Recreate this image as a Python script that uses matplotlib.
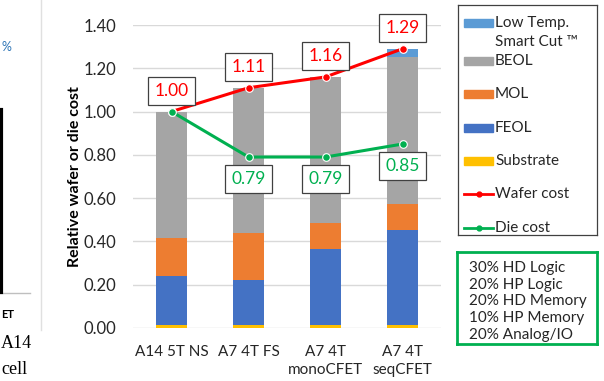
import matplotlib.pyplot as plt
from matplotlib.patches import Rectangle
from matplotlib.lines import Line2D

plt.rcParams['font.family'] = ['Lato', 'DejaVu Sans']

# stacked cost components per node (relative to A14 5T NS wafer)
nodes = ["A14 5T NS", "A7 4T FS", "A7 4T\nmonoCFET", "A7 4T\nseqCFET"]
substrate = [0.015, 0.015, 0.015, 0.015]
feol = [0.225, 0.205, 0.35, 0.44]
mol = [0.175, 0.22, 0.12, 0.12]
beol = [0.585, 0.67, 0.675, 0.675]
smart_cut = [0.0, 0.0, 0.0, 0.04]
wafer_cost = [1.00, 1.11, 1.16, 1.29]
die_cost = [1.00, 0.79, 0.79, 0.85]
mix = ["30% HD Logic", "20% HP Logic", "20% HD Memory",
       "10% HP Memory", "20% Analog/IO"]

c_sub = "#FFC000"
c_feol = "#4472C4"
c_mol = "#ED7D31"
c_beol = "#A5A5A5"
c_cut = "#5B9BD5"
c_red = "#FF0000"
c_green = "#00B050"

W, H = 604, 381
fig = plt.figure(figsize=(W / 100, H / 100), dpi=100)
ax = fig.add_axes([133 / W, 1 - 328 / H, 308 / W, 303 / H])

x = list(range(len(nodes)))
bottom = [0.0] * len(nodes)
for vals, col in [(substrate, c_sub), (feol, c_feol), (mol, c_mol),
                  (beol, c_beol), (smart_cut, c_cut)]:
    ax.bar(x, vals, 0.4, bottom=bottom, color=col, zorder=2)
    bottom = [b + v for b, v in zip(bottom, vals)]

line_kw = dict(lw=2.2, marker='o', ms=5.5, mec='white', mew=0.8, zorder=4)
ax.plot(x, wafer_cost, color=c_red, **line_kw)
ax.plot(x, die_cost, color=c_green, **line_kw)

box = dict(boxstyle='square,pad=0.35', fc='white', ec='#404040', lw=0.9)
for i, v in enumerate(wafer_cost):
    ax.annotate(f"{v:.2f}", (i, v), xytext=(0, 15), textcoords='offset points',
                ha='center', va='center', color=c_red, fontsize=12.5,
                bbox=box, zorder=5)
for i, v in enumerate(die_cost):
    if i == 0:
        continue
    ax.annotate(f"{v:.2f}", (i, v), xytext=(0, -16), textcoords='offset points',
                ha='center', va='center', color=c_green, fontsize=12.5,
                bbox=box, zorder=5)

ax.set_xlim(-0.5, 3.5)
ax.set_ylim(0, 1.4)
ax.set_yticks([0, 0.2, 0.4, 0.6, 0.8, 1.0, 1.2, 1.4])
ax.set_yticklabels([f"{t:.2f}" for t in ax.get_yticks()])
ax.set_xticks(x)
ax.set_xticklabels(nodes, linespacing=1.4)
ax.tick_params(axis='y', length=0, pad=12, labelsize=12, colors='#262626')
ax.tick_params(axis='x', length=0, pad=12, labelsize=11, colors='#262626')
ax.grid(axis='y', color='#D9D9D9', lw=1, zorder=0)
ax.set_axisbelow(True)
for s in ax.spines.values():
    s.set_visible(False)
ax.set_ylabel("Relative wafer or die cost", fontsize=11.5, fontweight='bold')
ax.yaxis.set_label_coords(-0.165, 0.5)

# legend panel, drawn in its own pixel-unit axes
lg = fig.add_axes([458 / W, 1 - 235 / H, 139 / W, 230 / H])
lg.set_xlim(0, 139)
lg.set_ylim(230, 0)
lg.set_xticks([])
lg.set_yticks([])
for s in lg.spines.values():
    s.set_color('#404040')
    s.set_linewidth(0.9)

patch_rows = [(c_cut, "Low Temp.", 18), (c_beol, "BEOL", 56),
              (c_mol, "MOL", 89), (c_feol, "FEOL", 123), (c_sub, "Substrate", 156)]
for col, name, yy in patch_rows:
    lg.add_patch(Rectangle((6, yy - 4), 29, 8, color=col))
    lg.text(37, yy, name, va='center', fontsize=11, color='#262626')
lg.text(37, 37, "Smart Cut \u2122", va='center', fontsize=11, color='#262626')

for col, name, yy in [(c_red, "Wafer cost", 189), (c_green, "Die cost", 223)]:
    lg.plot([6, 35], [yy, yy], color=col, lw=2)
    lg.plot([20.5], [yy], 'o', color=col, ms=3.5)
    lg.text(37, yy, name, va='center', fontsize=11, color='#262626')

# product mix box
nb = fig.add_axes([457 / W, 1 - 344 / H, 140 / W, 92 / H])
nb.set_xlim(0, 140)
nb.set_ylim(92, 0)
nb.set_xticks([])
nb.set_yticks([])
for s in nb.spines.values():
    s.set_color(c_green)
    s.set_linewidth(2)
for k, line in enumerate(mix):
    nb.text(12, 16 + 16.7 * k, line, va='center', fontsize=11, color='#262626')

# neighbouring panel edge
fig.add_artist(Line2D([41 / W, 41 / W], [1 - 330 / H, 1], color='#E0E0E0',
                      lw=1, transform=fig.transFigure))
fig.add_artist(Line2D([0, 30 / W], [1 - 293 / H, 1 - 293 / H], color='#BFBFBF',
                      lw=1, transform=fig.transFigure))
fig.add_artist(Line2D([1 / W, 1 / W], [1 - 292 / H, 1 - 110 / H], color='black',
                      lw=3, transform=fig.transFigure))
fig.text(1 / W, 1 - 47 / H, "%", color='#2E75B6', fontsize=9, va='center')
fig.text(1 / W, 1 - 314 / H, "ET", fontsize=8, fontweight='bold', va='center')
fig.text(1 / W, 1 - 343 / H, "A14", family='Liberation Serif', fontsize=13,
         va='center')
fig.text(1 / W, 1 - 370 / H, "cell", family='Liberation Serif', fontsize=13,
         va='center')

fig.savefig("out.png", dpi=100)
